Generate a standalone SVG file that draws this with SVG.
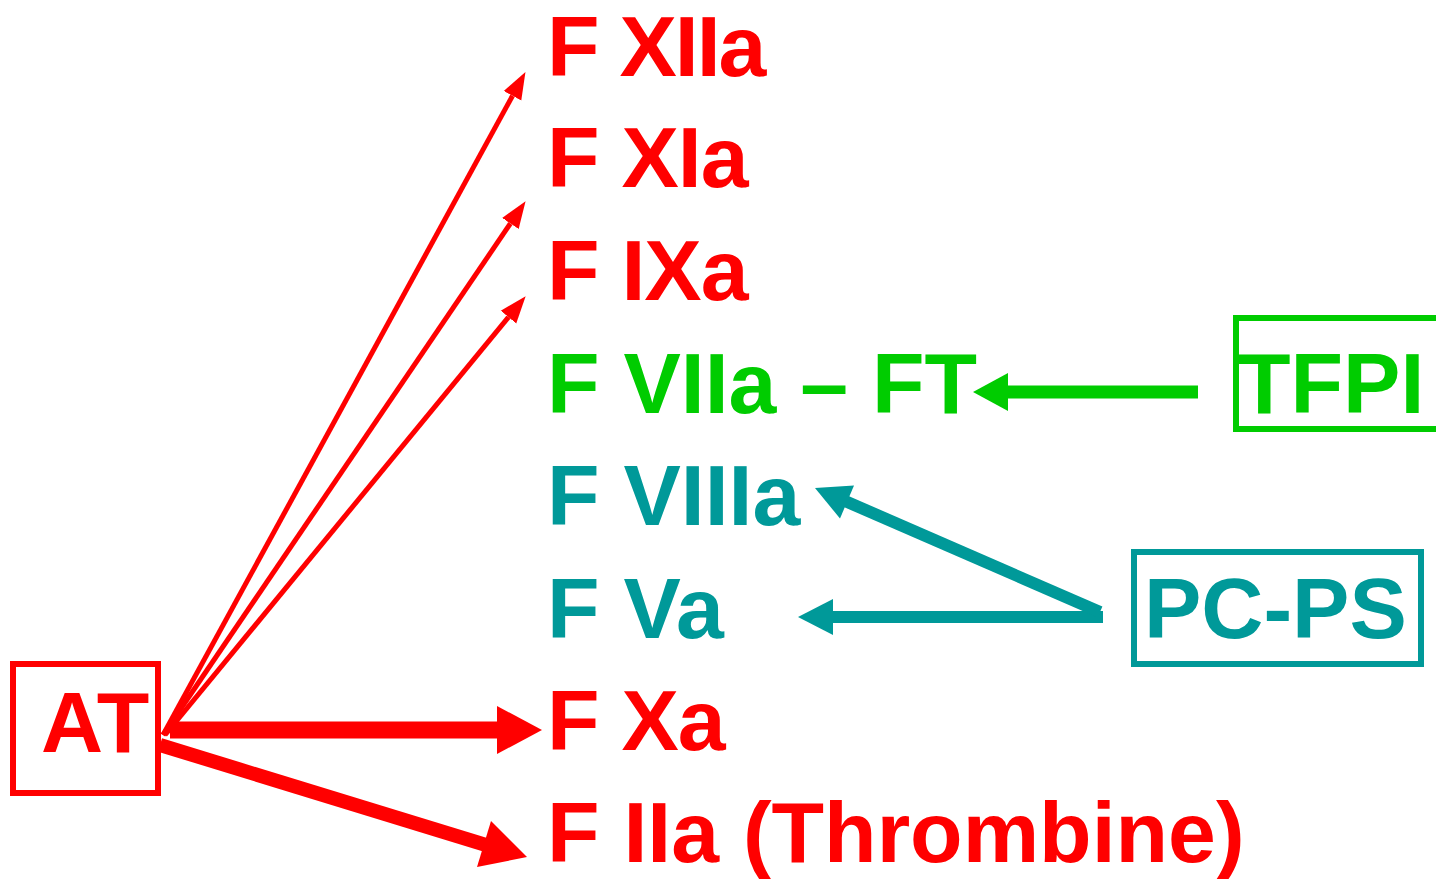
<svg xmlns="http://www.w3.org/2000/svg" width="1436" height="879" viewBox="0 0 1436 879">
<defs>
<style>
text{font-family:"Liberation Sans",Arial,sans-serif;font-weight:bold;font-size:86px}
.red{fill:#ff0000}.grn{fill:#00cc00}.teal{fill:#009999}
.box{fill:none;stroke-width:6}
</style>
<marker id="thin" markerUnits="userSpaceOnUse" markerWidth="27" markerHeight="22" refX="0" refY="11" orient="auto">
<path d="M0,1 L27,11 L0,21 z" fill="#ff0000"/>
</marker>
</defs>
<rect width="1436" height="879" fill="#fff"/>
<g id="connectors">
<line x1="163" y1="735" x2="512.5" y2="95.8" stroke="#ff0000" stroke-width="5" marker-end="url(#thin)"/>
<line x1="163" y1="735" x2="510.4" y2="223.5" stroke="#ff0000" stroke-width="5" marker-end="url(#thin)"/>
<line x1="165" y1="735" x2="508.5" y2="317.1" stroke="#ff0000" stroke-width="5" marker-end="url(#thin)"/>
<line x1="170" y1="730" x2="499" y2="730" stroke="#ff0000" stroke-width="17"/>
<polygon points="497,706 542,730 497,754" fill="#ff0000"/>
<line x1="160" y1="745" x2="486" y2="845" stroke="#ff0000" stroke-width="14"/>
<polygon points="491,821 527,857 477,867" fill="#ff0000"/>
<line x1="1198" y1="392" x2="1006" y2="392" stroke="#00cc00" stroke-width="13"/>
<polygon points="1008,373 973,392 1008,411" fill="#00cc00"/>
<line x1="1103" y1="617" x2="831" y2="617" stroke="#009999" stroke-width="12"/>
<polygon points="833,599 798,617 833,635" fill="#009999"/>
<line x1="1100" y1="612" x2="845" y2="501" stroke="#009999" stroke-width="12"/>
<polygon points="854,485.5 815,488 840,518.5" fill="#009999"/>
</g>
<g id="AT"><rect class="box" x="13" y="664" width="145" height="129" stroke="#ff0000"/><text class="red" x="41" y="752">AT</text></g>
<g id="FXIIa"><text class="red" x="547" y="76" letter-spacing="-2">F XIIa</text></g>
<g id="FXIa"><text class="red" x="547" y="187" letter-spacing="-1">F XIa</text></g>
<g id="FIXa"><text class="red" x="547" y="300" letter-spacing="-1">F IXa</text></g>
<g id="FVIIa-FT"><text class="grn" x="547" y="413">F VIIa – FT</text></g>
<g id="FVIIIa"><text class="teal" x="547" y="525">F VIIIa</text></g>
<g id="FVa"><text class="teal" x="547" y="638">F Va</text></g>
<g id="FXa"><text class="red" x="547" y="750" letter-spacing="-1">F Xa</text></g>
<g id="FIIa"><text class="red" x="547" y="862">F IIa (Thrombine)</text></g>
<g id="TFPI"><rect class="box" x="1236" y="318" width="210" height="111" stroke="#00cc00"/><text class="grn" x="1238" y="413">TFPI</text></g>
<g id="PC-PS"><rect class="box" x="1134" y="552" width="287" height="112" stroke="#009999"/><text class="teal" x="1144" y="638">PC-PS</text></g>
</svg>
